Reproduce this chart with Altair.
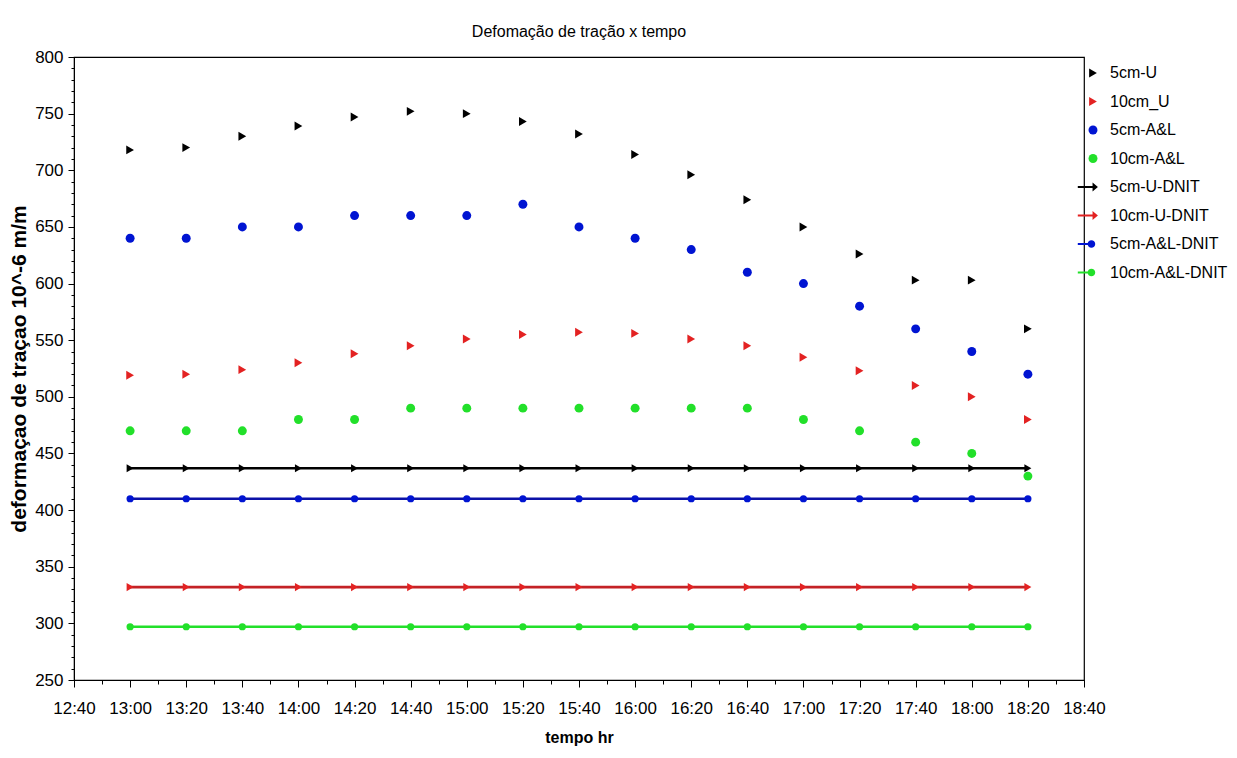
import altair as alt
import pandas as pd

# ---- data ----
times = ["13:00", "13:20", "13:40", "14:00", "14:20", "14:40", "15:00", "15:20",
         "15:40", "16:00", "16:20", "16:40", "17:00", "17:20", "17:40", "18:00", "18:20"]
u5 = [718, 720, 730, 739, 747, 752, 750, 743, 732, 714, 696, 674, 650, 626, 603, 603, 560]
u10 = [519, 520, 524, 530, 538, 545, 551, 555, 557, 556, 551, 545, 535, 523, 510, 500, 480]
al5 = [640, 640, 650, 650, 660, 660, 660, 670, 650, 640, 630, 610, 600, 580, 560, 540, 520]
al10 = [470, 470, 470, 480, 480, 490, 490, 490, 490, 490, 490, 490, 480, 470, 460, 450, 430]
dnit_names = ["5cm-U-DNIT", "10cm-U-DNIT", "5cm-A&L-DNIT", "10cm-A&L-DNIT"]
dnit_values = [437, 332, 410, 297]

scatter_names = ["5cm-U", "10cm_U", "5cm-A&L", "10cm-A&L"]
scatter_values = [u5, u10, al5, al10]
names = scatter_names + dnit_names

point_colors = ["#000000", "#e32222", "#0014d2", "#22e02a"]
line_colors = ["#000000", "#c42226", "#0c12a8", "#22e02a"]
colors = point_colors + point_colors

ARROW = "M-3.4,-0.2L-0.1,-0.2L-0.1,-1L1.1,0L-0.1,1L-0.1,0.2L-3.4,0.2Z"
DOTLINE = ("M-3.4,-0.2L-0.6,-0.2L-0.6,0.2L-3.4,0.2Z "
           "M0.5,0A0.85,0.85 0 1,1 -1.2,0A0.85,0.85 0 1,1 0.5,0Z")
shapes = ["triangle-right", "triangle-right", "circle", "circle", ARROW, ARROW, DOTLINE, DOTLINE]
marker_sizes = [80, 80, 52, 52, 65, 65, 52, 52]

# x-axis tick positions: every 10 minutes from 12:40 to 18:40
x_ticks = [(h, m) for h in range(12, 19) for m in range(0, 60, 10)
           if (12, 40) <= (h, m) <= (18, 40)]


def ts(hm):
    return "2000-01-01T" + hm + ":00"


def dt(h, m):
    return alt.DateTime(year=2000, month=1, date=1, hours=h, minutes=m)


rows = []
for n, vals in zip(scatter_names, scatter_values):
    for t, v in zip(times, vals):
        rows.append({"t": ts(t), "serie": n, "valor": v})
df_sc = pd.DataFrame(rows)

drows = []
for n, v in zip(dnit_names, dnit_values):
    for t in times:
        drows.append({"t": ts(t), "serie": n, "valor": v})
df_d = pd.DataFrame(drows)

FONT = "Liberation Sans, Arial, sans-serif"

xdomain = [dt(12, 40), dt(18, 40)]

xaxis = alt.Axis(
    title="tempo hr", format="%H:%M",
    values=[dt(h, m) for h, m in x_ticks],
    labelExpr="minutes(datum.value) % 20 == 0 ? timeFormat(datum.value, '%H:%M') : ''",
    tickSize=7,
    tickDash={"condition": {"test": "minutes(datum.value) % 20 == 0", "value": [7, 0]}, "value": [4, 20]},
    labelOverlap=False, labelFlush=False, grid=False,
    domainColor="#000000", tickColor="#000000",
    labelFont=FONT, labelFontSize=17, labelColor="#000000", labelPadding=13,
    titleFont=FONT, titleFontSize=16, titleFontWeight="bold", titleColor="#000000",
    titlePadding=13,
)
yaxis = alt.Axis(
    title="deformaçao de traçao 10^-6 m/m",
    values=list(range(250, 801, 10)),
    labelExpr="datum.value % 50 == 0 ? datum.label : ''",
    tickSize=6,
    tickDash={"condition": {"test": "datum.value % 50 == 0", "value": [6, 0]}, "value": [3, 20]},
    labelOverlap=False, labelFlush=False, grid=False,
    domainColor="#000000", tickColor="#000000",
    labelFont=FONT, labelFontSize=17, labelColor="#000000", labelPadding=5,
    titleFont=FONT, titleFontSize=21, titleFontWeight="bold", titleColor="#000000",
    titlePadding=5,
)

X = alt.X("t:T", scale=alt.Scale(domain=xdomain), axis=xaxis)
Y = alt.Y("valor:Q", scale=alt.Scale(domain=[250, 800]), axis=yaxis)

leg = alt.Legend(title=None, orient="none", legendX=1011, legendY=8,
                 labelFont=FONT, labelFontSize=16, labelColor="#000000",
                 symbolSize=36, rowPadding=12.5, labelOffset=9, symbolStrokeWidth=0)

scatter = alt.Chart(df_sc).mark_point(filled=True, opacity=1).encode(
    x=X, y=Y,
    color=alt.Color("serie:N", scale=alt.Scale(domain=names, range=colors), legend=leg),
    shape=alt.Shape("serie:N", scale=alt.Scale(domain=names, range=shapes), legend=leg),
    size=alt.Size("serie:N", scale=alt.Scale(domain=names, range=marker_sizes), legend=None),
)

layers = []
dshapes = ["triangle-right", "triangle-right", "circle", "circle"]
dsizes = [65, 65, 52, 52]
for n, lc, pc, sh, sz in zip(dnit_names, line_colors, point_colors, dshapes, dsizes):
    sub = df_d[df_d["serie"] == n]
    layers.append(
        alt.Chart(sub).mark_line(color=lc, strokeWidth=2.6).encode(x=X, y=Y)
    )
    layers.append(
        alt.Chart(sub).mark_point(filled=True, size=sz, opacity=1, shape=sh, color=pc).encode(x=X, y=Y)
    )

chart = alt.layer(*layers, scatter).properties(
    width=1010, height=623,
    background="white",
    title=alt.TitleParams("Defomação de tração x tempo", font=FONT, fontSize=16,
                          fontWeight="normal", color="#000000", offset=8, anchor="middle"),
    autosize=alt.AutoSizeParams(type="none"),
    padding={"left": 66, "top": 49, "right": 145, "bottom": 70},
).configure_view(stroke="#000000", strokeWidth=1.2)

chart.save("out.html", embed_options={"renderer": "svg", "actions": False})
